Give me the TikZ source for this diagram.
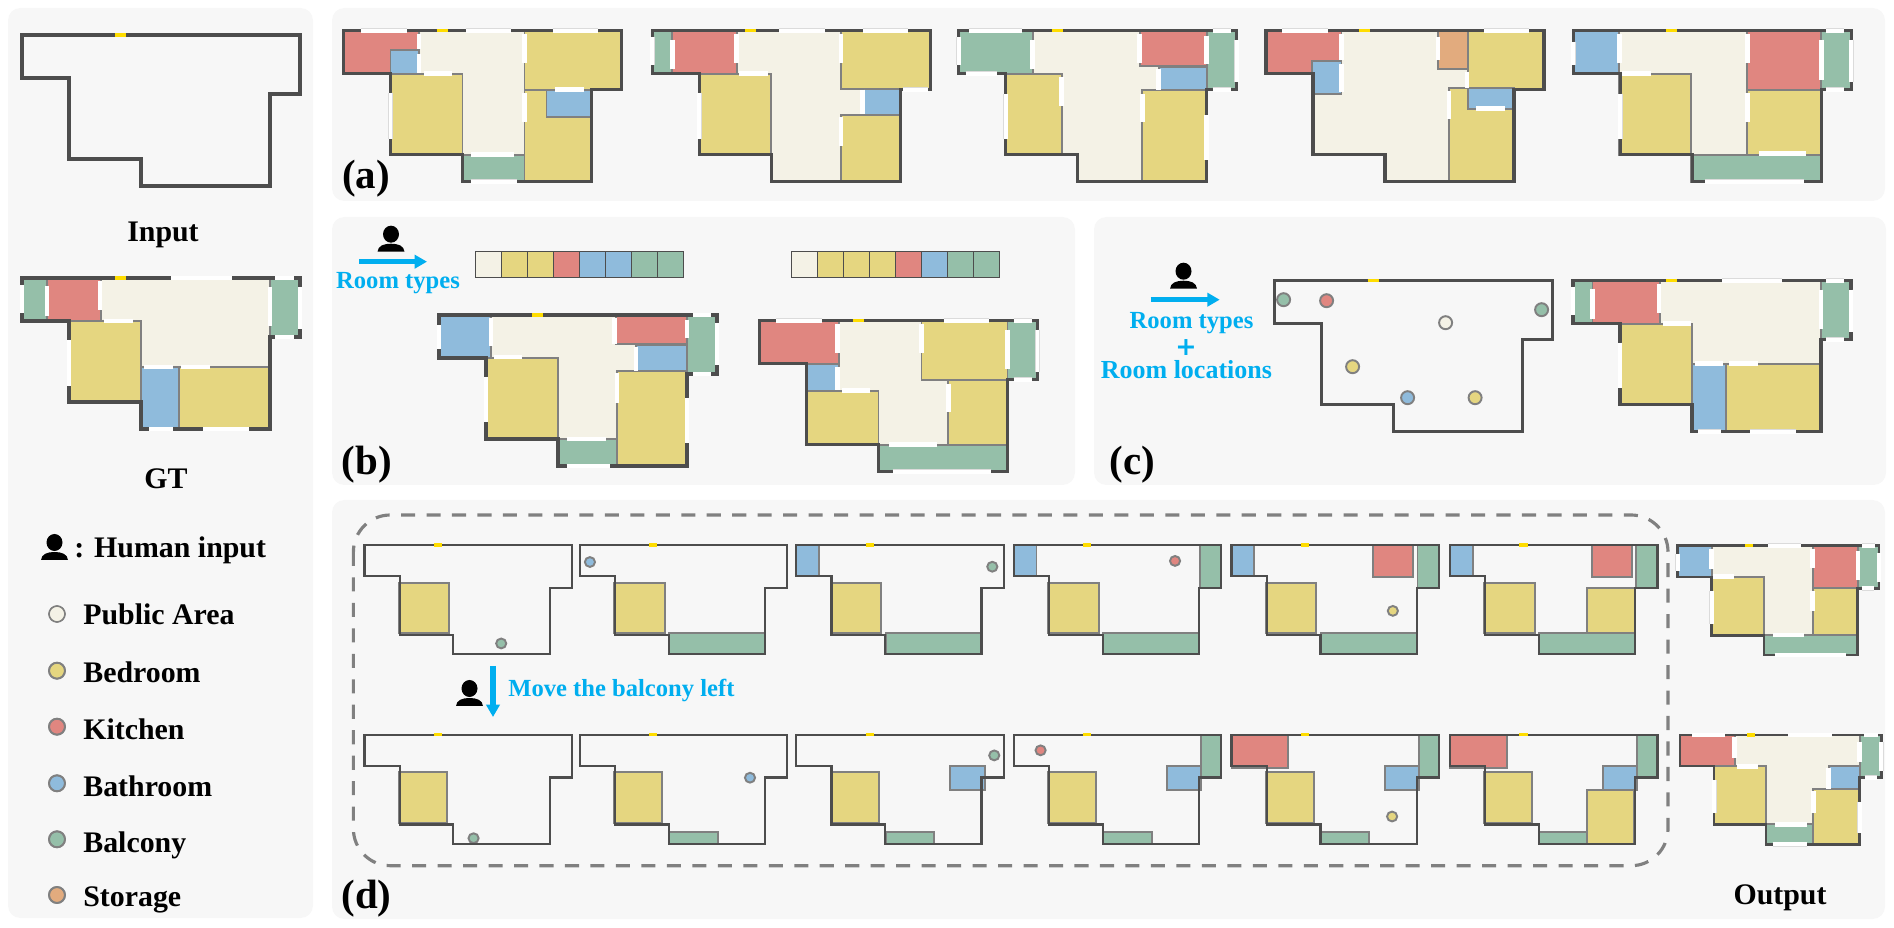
\documentclass[tikz,border=0pt]{standalone}
\usepackage{fontspec}
\setmainfont{Liberation Serif}
\newfontfamily\plusfont{DejaVu Sans}
\usetikzlibrary{arrows.meta}

\definecolor{panelgray}{HTML}{F7F7F7}
\definecolor{wallgray}{HTML}{4D4D4D}
\definecolor{linegray}{HTML}{808080}
\definecolor{pubcol}{HTML}{F4F2E6}
\definecolor{bedcol}{HTML}{E5D680}
\definecolor{kitcol}{HTML}{E08680}
\definecolor{bathcol}{HTML}{8FBBDC}
\definecolor{balccol}{HTML}{95BFA9}
\definecolor{storcol}{HTML}{E2AB7E}
\definecolor{doorcol}{HTML}{FFDD00}
\definecolor{cuecol}{HTML}{00AEEF}

\tikzset{
  panel/.style={fill=panelgray, rounded corners=7pt},
  pubroom/.style={fill=pubcol},
  bedroom/.style={fill=bedcol, draw=linegray, line width=1.1pt},
  kitroom/.style={fill=kitcol, draw=linegray, line width=1.1pt},
  bathroom/.style={fill=bathcol, draw=linegray, line width=1.1pt},
  balcroom/.style={fill=balccol, draw=linegray, line width=1.1pt},
  storroom/.style={fill=storcol, draw=linegray, line width=1.1pt},
  wall/.style={draw=wallgray, line width=1.8pt},
  win/.style={draw=white, line width=2.8pt},
  winx/.style={draw=black!14, double=white, double distance=2.2pt, line width=.3pt},
  doorgap/.style={draw=doorcol, line width=1.8pt},
  minifloor/.style={xscale=.747, yscale=.724, wall/.append style={line width=1.25pt}},
  outfloor/.style={xscale=.724, yscale=.724, wall/.append style={line width=1.5pt}},
  barcell/.style={draw=wallgray, line width=.9pt},
  title/.style={font=\fontsize{17}{20}\selectfont\bfseries, inner sep=0pt},
  tag/.style={font=\fontsize{23.3}{26}\selectfont\bfseries, inner sep=0pt},
  legend/.style={font=\fontsize{17}{20}\selectfont\bfseries, inner sep=0pt, anchor=base west},
  cue/.style={font=\fontsize{14}{17}\selectfont\bfseries, text=cuecol, inner sep=0pt},
  cuearrow/.style={draw=cuecol, line width=2.9pt, -{Triangle[length=7pt,width=7.5pt]}},
  personicon/.pic={
    \fill[black] (0,-17.5) circle [x radius=8, y radius=8.5];
    \fill[black] (-13.5,0) .. controls (-13,-6) and (-7,-8) .. (0,-8)
      .. controls (7,-8) and (13,-6) .. (13.5,0) -- cycle;
  },
}

% outer wall of the apartment, in its own pixels
\newcommand{\wallpath}{(0,0) -- (278,0) -- (278,59) -- (248,59) -- (248,151) -- (119,151)
  -- (119,124) -- (47,124) -- (47,43) -- (0,43) -- cycle}
\newcommand{\pubfill}{\fill[pubroom] \wallpath;}
% x, y, options, rooms, windows
\newcommand{\floorplan}[5]{%
  \begin{scope}[shift={(#1,#2)},#3]
    #4
    \draw[wall] \wallpath;
    #5
    \draw[doorgap] (93,0) -- (104,0);
  \end{scope}}

\begin{document}
\begin{tikzpicture}[x=.02cm, y=-.02cm]
  \useasboundingbox (0,0) rectangle (1894,928);

  % Panels
  \fill[panel] (8,8) rectangle (313,918);
  \fill[panel] (332,8) rectangle (1885,201);
  \fill[panel] (332,217) rectangle (1075,485);
  \fill[panel] (1094,217) rectangle (1886,485);
  \fill[panel] (332,500) rectangle (1885,919);

  % Input and ground truth
  \floorplan{22}{35}{}{}{}
  \node[title] (inputlabel) at (163,235) {Input};
  \floorplan{22}{278}{}{
    \pubfill
    \draw[balcroom] (0,0) rectangle (25,43);
    \draw[kitroom] (25,0) rectangle (79,43);
    \draw[bedroom] (47,43) rectangle (119,124);
    \draw[balcroom] (248,0) rectangle (278,59);
    \draw[bathroom] (119,89) rectangle (157,151);
    \draw[bedroom] (157,89) rectangle (248,151);
  }{
    \draw[win] (25,8) -- (25,38) (78,3) -- (78,32) (82,43) -- (111,43) (248,9) -- (248,48)
      (122,89) -- (151,89) (159,89) -- (188,89);
    \draw[winx] (0,7) -- (0,35) (47,62) -- (47,108) (149,0) -- (210,0) (253,0) -- (272,0)
      (278,9) -- (278,51) (253,59) -- (272,59) (127,151) -- (151,151) (181,151) -- (227,151);
  }
  \node[title] (gtlabel) at (166,479) {GT};

  % Legend
  \pic at (54.5,560) {personicon};
  \node[legend] (humanlabel) at (74,558) {: Human input};
  \foreach \kind/\name/\cy/\by in {pubroom/Public Area/614/625, bedroom/Bedroom/670.7/683,
      kitroom/Kitchen/726.7/740, bathroom/Bathroom/783.3/796.5,
      balcroom/Balcony/839.3/852, storroom/Storage/895/906.5}{
    \draw[\kind] (57,\cy) circle (8);
    \draw[draw=linegray, line width=.9pt] (57,\cy) circle (8);
    \node[legend] (legend\cy) at (83,\by) {\name};
  }

  % (a) free generation
  \floorplan{343.5}{30.7}{}{
    \pubfill
    \draw[kitroom] (0,0) rectangle (75.5,43);
    \draw[bathroom] (47,19) rectangle (75.5,43);
    \draw[bedroom] (47,43) rectangle (119,124);
    \draw[bedroom] (181,0) rectangle (278,59);
    \draw[bedroom] (181,59) rectangle (248,151);
    \draw[bathroom] (203,59) rectangle (248,86);
    \draw[balcroom] (119,124) rectangle (181,151);
  }{
    \draw[win] (75.5,3) -- (75.5,18) (75.5,23) -- (75.5,42) (80,43) -- (108,43) (181,3) -- (181,32)
      (181,62) -- (181,91) (127,124) -- (170,124) (211,59) -- (240,59);
    \draw[winx] (17,0) -- (63,0) (122,0) -- (167,0) (209,0) -- (254,0) (47,62) -- (47,108)
      (127,151) -- (173,151);
  }
  \floorplan{652.4}{30.7}{}{
    \pubfill
    \draw[balcroom] (0,0) rectangle (20,43);
    \draw[kitroom] (20,0) rectangle (84.5,43);
    \draw[bedroom] (47,43) rectangle (119,124);
    \draw[bedroom] (188.6,0) rectangle (278,58);
    \draw[bathroom] (210,58) rectangle (248,84);
    \draw[bedroom] (188.6,84) rectangle (248,151);
  }{
    \draw[win] (20,9) -- (20,38) (84.5,3) -- (84.5,32) (188.6,3) -- (188.6,32) (87,43) -- (116,43)
      (210,59) -- (210,83) (188.6,86) -- (188.6,115);
    \draw[winx] (0,6) -- (0,34) (127,0) -- (173,0) (211,0) -- (256,0) (47,62) -- (47,108)
      (251,59) -- (276,59);
  }
  \floorplan{958.6}{30.7}{}{
    \pubfill
    \draw[balcroom] (0,0) rectangle (74,43);
    \draw[kitroom] (181,0) rectangle (248,35);
    \draw[bathroom] (200,36) rectangle (248,59);
    \draw[balcroom] (248,0) rectangle (278,59);
    \draw[bedroom] (47,43) rectangle (103,124);
    \draw[bedroom] (183,59) rectangle (248,151);
  }{
    \draw[win] (74,9) -- (74,38) (103,46) -- (103,75) (181,3) -- (181,32) (248,5) -- (248,33)
      (200,38) -- (200,59) (184,63) -- (184,91) (248,84) -- (248,129);
    \draw[winx] (10,0) -- (63,0) (254,0) -- (272,0) (0,6) -- (0,34) (7,43) -- (38,43)
      (47,63) -- (47,108) (278,9) -- (278,51) (254,59) -- (272,59);
  }
  \floorplan{1266}{30.7}{}{
    \pubfill
    \draw[kitroom] (0,0) rectangle (75.5,43);
    \draw[bathroom] (46,30) rectangle (75.5,63);
    \draw[storroom] (172,0) rectangle (202,38);
    \draw[bedroom] (202,0) rectangle (278,59);
    \draw[bedroom] (183,57) rectangle (248,151);
    \draw[bathroom] (202,57) rectangle (248,78);
  }{
    \draw[win] (75.5,3) -- (75.5,29) (75.5,33) -- (75.5,61) (172,6) -- (172,29) (201,41) -- (201,57)
      (183,60) -- (183,88) (210,78) -- (239,78);
    \draw[winx] (16,0) -- (62,0) (218,0) -- (263,0);
  }
  \floorplan{1573.3}{30.7}{}{
    \pubfill
    \draw[bathroom] (0,0) rectangle (46,43);
    \draw[bedroom] (46,43) rectangle (118,124);
    \draw[kitroom] (174,0) rectangle (248,59);
    \draw[balcroom] (248,0) rectangle (278,59);
    \draw[bedroom] (174,59) rectangle (248,124);
    \draw[balcroom] (118,124) rectangle (248,151);
  }{
    \draw[win] (46,3) -- (46,32) (49,43) -- (78,43) (174,3) -- (174,32) (174,62) -- (174,91)
      (248,9) -- (248,49) (186,123) -- (233,123);
    \draw[winx] (0,11) -- (0,34) (47,63) -- (47,108) (253,0) -- (271,0) (278,9) -- (278,51)
      (253,59) -- (271,59) (132,151) -- (231,151);
  }
  \node[tag] (taga) at (366,179) {(a)};

  % (b) room types
  \pic at (391,251.7) {personicon};
  \coordinate (bfrom) at (359,261.7);
  \coordinate (bto) at (427,261.7);
  \draw[cuearrow] (bfrom) -- (bto);
  \node[cue] (btypes) at (398,283) {Room types};
  \foreach \kind [count=\i from 0] in {pubroom,bedroom,bedroom,kitroom,bathroom,bathroom,balcroom,balcroom}
    \draw[\kind,barcell] ({475.4+26*\i},251.7) rectangle ++(26,26);
  \foreach \kind [count=\i from 0] in {pubroom,bedroom,bedroom,bedroom,kitroom,bathroom,balcroom,balcroom}
    \draw[\kind,barcell] ({791.5+26*\i},251.7) rectangle ++(26,26);
  \floorplan{439}{315}{}{
    \pubfill
    \draw[bathroom] (0,0) rectangle (52,43);
    \draw[bedroom] (47,43) rectangle (119,124);
    \draw[kitroom] (177,0) rectangle (248,29);
    \draw[bathroom] (197,30) rectangle (248,56);
    \draw[balcroom] (248,0) rectangle (278,59);
    \draw[bedroom] (178,56) rectangle (248,151);
    \draw[balcroom] (119,124) rectangle (178,151);
  }{
    \draw[win] (52,3) -- (52,31) (55,42) -- (83,42) (175.5,3) -- (175.5,29) (248,5) -- (248,23)
      (197,32) -- (197,56) (178,58) -- (178,88) (127.5,124) -- (167,124);
    \draw[winx] (0,10) -- (0,34) (47,62) -- (47,107) (254,0) -- (272,0) (278,8) -- (278,50)
      (254,59) -- (272,59) (248,83) -- (248,128) (127.5,151) -- (170.6,151);
  }
  \floorplan{759.5}{320.7}{}{
    \pubfill
    \draw[kitroom] (0,0) rectangle (79.5,43);
    \draw[bathroom] (47,43) rectangle (79.5,70);
    \draw[bedroom] (47,70) rectangle (119,124);
    \draw[bedroom] (162,0) rectangle (248,59);
    \draw[balcroom] (248,0) rectangle (278,59);
    \draw[bedroom] (188.6,59) rectangle (248,124);
    \draw[balcroom] (119,124) rectangle (248,151);
  }{
    \draw[win] (78,3) -- (78,32) (78,46) -- (78,69) (162,3) -- (162,32) (248,9) -- (248,48)
      (82,70) -- (110,70) (188.6,63) -- (188.6,91) (129.5,124) -- (177.4,124);
    \draw[winx] (16.5,0) -- (62,0) (184,0) -- (229,0) (254,0) -- (272,0) (278,9) -- (278,51)
      (254,59) -- (272,59) (133,151) -- (231,151);
  }
  \node[tag] (tagb) at (367,465) {(b)};

  % (c) room types and locations
  \pic at (1183.5,288.7) {personicon};
  \coordinate (cfrom) at (1150.5,299.7);
  \coordinate (cto) at (1219.7,299.7);
  \draw[cuearrow] (cfrom) -- (cto);
  \node[cue] (ctypes) at (1191.5,323) {Room types};
  \node[cue, font=\plusfont\fontsize{14.5}{15}\bfseries\selectfont] (cplus) at (1186,348) {+};
  \node[cue, font=\fontsize{14.8}{17}\selectfont\bfseries] (clocs) at (1186.4,370) {Room locations};
  \floorplan{1274.6}{280.7}{}{
    \draw[balcroom] (9,19) circle (6.5);
    \draw[kitroom] (52,20) circle (6.5);
    \draw[balcroom] (267,29) circle (6.5);
    \draw[bedroom, fill=pubcol] (171,42) circle (6.5);
    \draw[bedroom] (78,86) circle (6.5);
    \draw[bathroom] (133,117) circle (6.5);
    \draw[bedroom] (200.5,117) circle (6.5);
  }{}
  \floorplan{1573}{280.7}{}{
    \pubfill
    \draw[balcroom] (0,0) rectangle (19.5,43);
    \draw[kitroom] (19.5,0) rectangle (87,43);
    \draw[bedroom] (47,43) rectangle (119,124);
    \draw[balcroom] (248,0) rectangle (278,59);
    \draw[bathroom] (119,83) rectangle (153,151);
    \draw[bedroom] (153,83) rectangle (248,151);
  }{
    \draw[win] (19.5,8) -- (19.5,38) (86,3) -- (86,32) (90,43) -- (118,43) (248,9) -- (248,48)
      (122,83) -- (150,83) (156,83) -- (185,83);
    \draw[winx] (0,6) -- (0,34) (47,62) -- (47,107) (149,0) -- (209,0) (253,0) -- (271,0)
      (278,9) -- (278,51) (253,59) -- (271,59) (125,151) -- (148,151) (177,151) -- (223,151);
  }
  \node[tag] (tagc) at (1132.5,465) {(c)};

  % (d) edit sequence
  \draw[draw=linegray, line width=1.8pt, dash pattern=on 8pt off 6.5pt, rounded corners=21pt]
    (353.4,515) rectangle (1668,865.7);
  \floorplan{364.5}{545}{minifloor}{
    \draw[bedroom] (46,52) rectangle (113.6,122);
    \draw[balcroom] (183,136) circle (6.8);
  }{}
  \floorplan{579.7}{545}{minifloor}{
    \draw[bedroom] (46,52) rectangle (113.6,122);
    \draw[balcroom] (119.5,122) rectangle (248.6,151);
    \draw[bathroom] (13.7,23.5) circle (6.8);
  }{}
  \floorplan{796.3}{545}{minifloor}{
    \draw[bedroom] (46,52) rectangle (113.6,122);
    \draw[balcroom] (119.5,122) rectangle (248.6,151);
    \draw[bathroom] (0,0) rectangle (30.5,43);
    \draw[balcroom] (262.4,30) circle (6.8);
  }{}
  \floorplan{1013.7}{545}{minifloor}{
    \draw[bedroom] (46,52) rectangle (113.6,122);
    \draw[balcroom] (119.5,122) rectangle (248.6,151);
    \draw[bathroom] (0,0) rectangle (30.5,43);
    \draw[balcroom] (249,0) rectangle (278,59);
    \draw[kitroom] (216,22) circle (6.8);
  }{}
  \floorplan{1231.5}{545}{minifloor}{
    \draw[bedroom] (46,52) rectangle (113.6,122);
    \draw[balcroom] (119.5,122) rectangle (248.6,151);
    \draw[bathroom] (0,0) rectangle (30.5,43);
    \draw[balcroom] (249,0) rectangle (278,59);
    \draw[kitroom] (190,0) rectangle (243.5,44);
    \draw[bedroom] (216,91) circle (6.8);
  }{}
  \floorplan{1449.8}{545}{minifloor}{
    \draw[bedroom] (46,52) rectangle (113.6,122);
    \draw[balcroom] (119.5,122) rectangle (248.6,151);
    \draw[bathroom] (0,0) rectangle (30.5,43);
    \draw[balcroom] (249,0) rectangle (278,59);
    \draw[kitroom] (190,0) rectangle (243.5,44);
    \draw[bedroom] (184,60) rectangle (248,122);
  }{}
  \pic at (469.5,706) {personicon};
  \coordinate (dfrom) at (493,666);
  \coordinate (dto) at (493,717);
  \draw[cuearrow] (dfrom) -- (dto);
  \node[cue, anchor=base west] (movelabel) at (508,696.7) {Move the balcony left};
  \floorplan{364.5}{734.7}{minifloor}{
    \draw[bedroom] (46,52) rectangle (110.6,122);
    \draw[balcroom] (146,143) circle (6.8);
  }{}
  \floorplan{579.7}{734.7}{minifloor}{
    \draw[bedroom] (46,52) rectangle (110.6,122);
    \draw[balcroom] (119.5,135) rectangle (184.6,151);
    \draw[bathroom] (228,59.4) circle (6.8);
  }{}
  \floorplan{796.3}{734.7}{minifloor}{
    \draw[bedroom] (46,52) rectangle (110.6,122);
    \draw[balcroom] (119.5,135) rectangle (184.6,151);
    \draw[bathroom] (206,43) rectangle (253,76);
    \draw[balcroom] (265,28.6) circle (6.8);
  }{}
  \floorplan{1013.7}{734.7}{minifloor}{
    \draw[bedroom] (46,52) rectangle (110.6,122);
    \draw[balcroom] (119.5,135) rectangle (184.6,151);
    \draw[bathroom] (205,43) rectangle (251,76);
    \draw[balcroom] (251,0) rectangle (278,59);
    \draw[kitroom] (36,21.6) circle (6.8);
  }{}
  \floorplan{1231.5}{734.7}{minifloor}{
    \draw[bedroom] (46,52) rectangle (110.6,122);
    \draw[balcroom] (119.5,135) rectangle (184.6,151);
    \draw[bathroom] (205,43) rectangle (251,76);
    \draw[balcroom] (251,0) rectangle (278,59);
    \draw[kitroom] (0,0) rectangle (76,46);
    \draw[bedroom] (215,113) circle (6.8);
  }{}
  \floorplan{1449.8}{734.7}{minifloor}{
    \draw[bedroom] (46,52) rectangle (110.6,122);
    \draw[balcroom] (119.5,135) rectangle (184.6,151);
    \draw[bathroom] (205,43) rectangle (251,76);
    \draw[balcroom] (251,0) rectangle (278,59);
    \draw[kitroom] (0,0) rectangle (76,46);
    \draw[bedroom] (184,76) rectangle (247,151);
  }{}

  % Outputs of the two rows
  \floorplan{1677.7}{545.7}{outfloor}{
    \pubfill
    \draw[bathroom] (0,0) rectangle (47,43);
    \draw[kitroom] (186.5,0) rectangle (249,59);
    \draw[balcroom] (249,0) rectangle (278,59);
    \draw[bedroom] (47,43) rectangle (119.6,123);
    \draw[bedroom] (186.5,59) rectangle (249,123);
    \draw[balcroom] (119.6,123) rectangle (249,151);
  }{
    \draw[win] (47,4) -- (47,32) (49,43) -- (78,43) (186.5,4) -- (186.5,31) (186.5,63) -- (186.5,90)
      (249,8) -- (249,47) (131,123.4) -- (175,123.4);
    \draw[winx] (0,11.5) -- (0,34.5) (47,62) -- (47,108) (124.7,0) -- (170,0) (255,0) -- (273,0)
      (278,10) -- (278,50) (255,59) -- (271,59) (134,151) -- (232,151);
  }
  \floorplan{1680}{735}{outfloor}{
    \pubfill
    \draw[kitroom] (0,0) rectangle (76,43);
    \draw[balcroom] (248,0) rectangle (278,59);
    \draw[bathroom] (205.5,43) rectangle (248,75);
    \draw[bedroom] (47,43) rectangle (119,123.4);
    \draw[bedroom] (184,75) rectangle (248,151);
    \draw[balcroom] (119,123.4) rectangle (184,151);
  }{
    \draw[win] (75,3) -- (75,32) (79,43) -- (108,43) (248,9) -- (248,37) (205.5,46) -- (205.5,75)
      (184,78) -- (184,108) (131,123.4) -- (175,123.4);
    \draw[winx] (17,0) -- (62,0) (149,0) -- (210,0) (254,0) -- (273,0) (47,62) -- (47,108)
      (278,9) -- (278,50) (255,59) -- (272,59) (248,92) -- (248,136) (128,151) -- (175,151);
  }
  \node[title] (outputlabel) at (1780,898) {Output};
  \node[tag] (tagd) at (366.5,899) {(d)};
\end{tikzpicture}
\end{document}
